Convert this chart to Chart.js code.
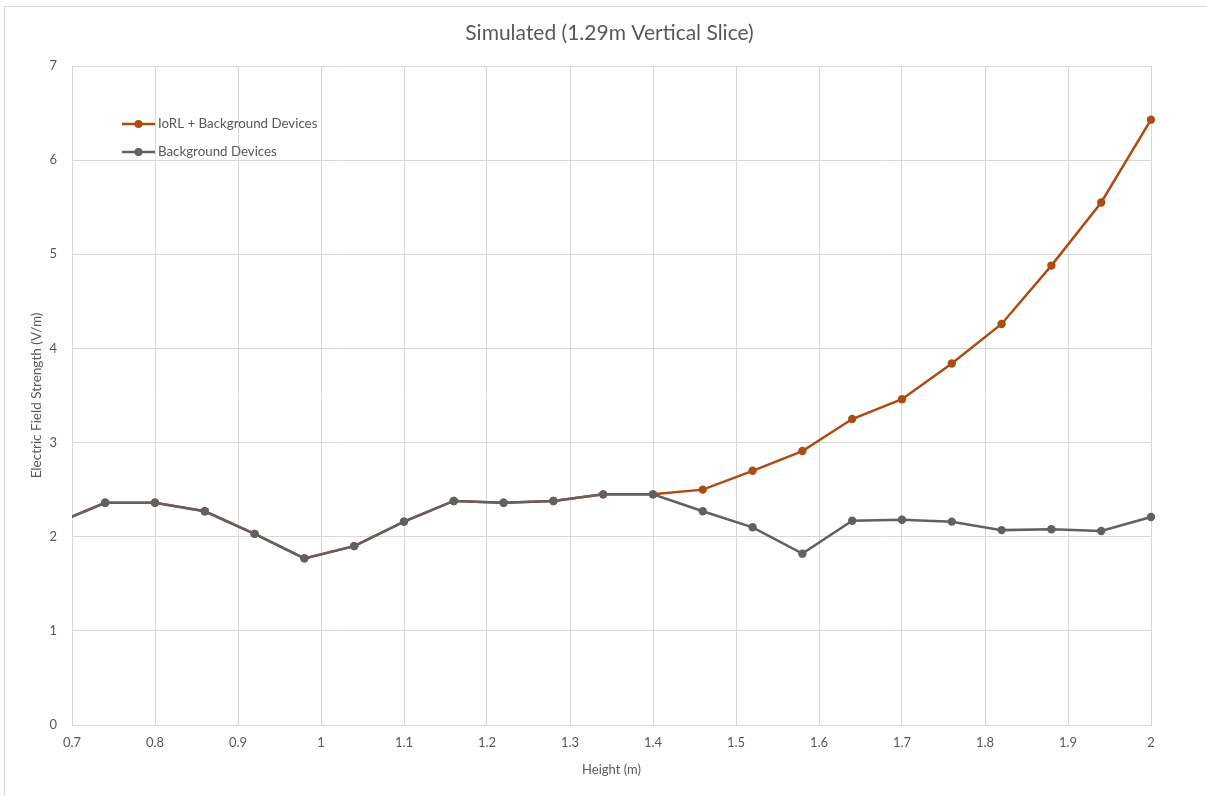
<!DOCTYPE html>
<html>
<head>
<meta charset="utf-8">
<script src="https://cdn.jsdelivr.net/npm/chart.js@4.4.1/dist/chart.umd.min.js"></script>
<style>
  html, body { margin: 0; padding: 0; background: #ffffff; }
  #wrap { position: relative; width: 1207px; height: 796px; overflow: hidden; }
  #frame { position: absolute; left: 4px; top: 6px; width: 1240px; height: 840px; border: 1px solid #d9d9d9; box-sizing: border-box; pointer-events: none; }
  canvas { position: absolute; left: 0; top: 0; }
</style>
</head>
<body>
<div id="wrap">
  <canvas id="chart" width="1207" height="796"></canvas>
  <div id="frame"></div>
</div>
<script>
// Measurement heights (m)
const heights = [0.68, 0.74, 0.80, 0.86, 0.92, 0.98, 1.04, 1.10, 1.16, 1.22, 1.28, 1.34,
                 1.40, 1.46, 1.52, 1.58, 1.64, 1.70, 1.76, 1.82, 1.88, 1.94, 2.00];

// Electric field strength (V/m) with the IoRL system plus background devices
const iorlPlusBackground = [2.14, 2.36, 2.36, 2.27, 2.03, 1.77, 1.90, 2.16, 2.38, 2.36, 2.38, 2.45,
                            2.45, 2.50, 2.70, 2.91, 3.25, 3.46, 3.84, 4.26, 4.88, 5.55, 6.43];

// Electric field strength (V/m) with background devices only
const backgroundOnly = [2.14, 2.36, 2.36, 2.27, 2.03, 1.77, 1.90, 2.16, 2.38, 2.36, 2.38, 2.45,
                        2.45, 2.27, 2.10, 1.82, 2.17, 2.18, 2.16, 2.07, 2.08, 2.06, 2.21];

// Axis tick values
const xTicks = [0.7, 0.8, 0.9, 1.0, 1.1, 1.2, 1.3, 1.4, 1.5, 1.6, 1.7, 1.8, 1.9, 2.0];
const yTicks = [0, 1, 2, 3, 4, 5, 6, 7];

const seriesNames = ['IoRL + Background Devices', 'Background Devices'];
const titleText = 'Simulated (1.29m Vertical Slice)';
const xTitle = 'Height (m)';
const yTitle = 'Electric Field Strength (V/m)';

const FONT = "Lato, 'Open Sans', sans-serif";
const TEXT = '#595959';
const GRID = '#d9d9d9';
const ORANGE = '#ab4c12';
const GREY = '#616161';

const toPoints = vals => heights.map((h, i) => ({ x: h, y: vals[i] }));

// Legend drawn inside the plot area, upper-left
const innerLegend = {
  id: 'innerLegend',
  afterDatasetsDraw(chart) {
    const { ctx, chartArea } = chart;
    const x0 = chartArea.left + 50, len = 33;
    const rows = [chartArea.top + 58, chartArea.top + 86];
    ctx.save();
    chart.data.datasets.forEach((ds, i) => {
      const y = rows[i];
      ctx.strokeStyle = ds.borderColor;
      ctx.lineWidth = ds.borderWidth;
      ctx.beginPath();
      ctx.moveTo(x0, y);
      ctx.lineTo(x0 + len, y);
      ctx.stroke();
      ctx.fillStyle = ds.pointBackgroundColor;
      ctx.beginPath();
      ctx.arc(x0 + len / 2, y, 4, 0, Math.PI * 2);
      ctx.fill();
      ctx.fillStyle = TEXT;
      ctx.font = '13.3px ' + FONT;
      ctx.textBaseline = 'middle';
      ctx.textAlign = 'left';
      ctx.fillText(ds.label, x0 + len + 3, y);
    });
    ctx.restore();
  }
};

new Chart(document.getElementById('chart'), {
  type: 'line',
  data: {
    datasets: [
      {
        label: seriesNames[0],
        data: toPoints(iorlPlusBackground),
        borderColor: ORANGE,
        backgroundColor: ORANGE,
        pointBackgroundColor: ORANGE,
        pointBorderColor: ORANGE,
        borderWidth: 2.5,
        pointRadius: 4.2,
        pointBorderWidth: 0,
        order: 2,
        clip: { left: 0, top: false, right: false, bottom: false }
      },
      {
        label: seriesNames[1],
        data: toPoints(backgroundOnly),
        borderColor: GREY,
        backgroundColor: GREY,
        pointBackgroundColor: GREY,
        pointBorderColor: GREY,
        borderWidth: 2.5,
        pointRadius: 4.2,
        pointBorderWidth: 0,
        order: 1,
        clip: { left: 0, top: false, right: false, bottom: false }
      }
    ]
  },
  options: {
    responsive: false,
    animation: false,
    events: [],
    layout: { padding: { left: 12, right: 0, top: 0, bottom: 0 } },
    plugins: {
      legend: { display: false },
      tooltip: { enabled: false },
      title: {
        display: true,
        text: titleText,
        color: TEXT,
        font: { family: FONT, size: 21, weight: 'normal', lineHeight: 1.2 },
        padding: { top: 20.4, bottom: 20.4 }
      }
    },
    scales: {
      x: {
        type: 'linear',
        min: 0.7,
        max: 2.0,
        afterBuildTicks: s => { s.ticks = xTicks.map(v => ({ value: v })); },
        afterFit: s => { s.height = 71; },
        grid: { color: GRID, lineWidth: 1, drawTicks: false },
        border: { color: GRID, width: 1 },
        ticks: {
          color: TEXT,
          font: { family: FONT, size: 13 },
          padding: 10,
          maxRotation: 0,
          autoSkip: false,
          callback: v => String(Number(v.toFixed(1)))
        },
        title: {
          display: true,
          text: xTitle,
          color: TEXT,
          font: { family: FONT, size: 13 },
          padding: { top: 0, bottom: 18 }
        }
      },
      y: {
        type: 'linear',
        min: 0,
        max: 7,
        afterBuildTicks: s => { s.ticks = yTicks.map(v => ({ value: v })); },
        afterFit: s => { s.width = 60; },
        grid: { color: GRID, lineWidth: 1, drawTicks: false },
        border: { color: GRID, width: 1 },
        ticks: {
          color: TEXT,
          font: { family: FONT, size: 13 },
          padding: 15,
          callback: v => String(v)
        },
        title: {
          display: true,
          text: yTitle,
          color: TEXT,
          font: { family: FONT, size: 13.5 },
          padding: { top: 17, bottom: 0 }
        }
      },
      // empty right-hand margin
      yRight: {
        type: 'linear',
        position: 'right',
        min: 0,
        max: 7,
        afterFit: s => { s.width = 56; },
        grid: { display: false },
        border: { display: false },
        ticks: { display: false },
        title: { display: false }
      }
    }
  },
  plugins: [innerLegend]
});
</script>
</body>
</html>
